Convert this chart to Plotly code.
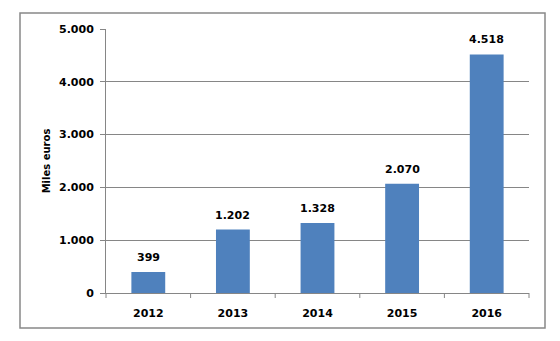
import plotly.graph_objects as go

years = ["2012", "2013", "2014", "2015", "2016"]
values = [399, 1202, 1328, 2070, 4518]
y_ticks = [0, 1000, 2000, 3000, 4000, 5000]

L, R, T, B = 106, 529, 29, 293
W, H = 560, 341
pw, ph = R - L, B - T

def px_to_paper_x(px):
    return (px - L) / pw

def px_to_paper_y(py):
    return (B - py) / ph

font_bold = dict(family="DejaVu Sans", size=11, color="#000000", weight="bold")

fig = go.Figure(
    go.Bar(
        x=years,
        y=values,
        marker=dict(color="#4F81BD", line=dict(width=0)),
        width=0.4,
        cliponaxis=False,
    )
)

# value labels above each bar (category index positions)
for i, v in enumerate(values):
    fig.add_annotation(
        x=i, y=v, xref="x", yref="y",
        text=f"{v:,}".replace(",", "."),
        showarrow=False, yanchor="bottom", yshift=6,
        font=font_bold,
    )

fig.update_layout(
    width=W,
    height=H,
    margin=dict(l=L, r=W - R, t=T, b=H - B),
    paper_bgcolor="white",
    plot_bgcolor="white",
    separators=",.",
    showlegend=False,
    xaxis=dict(
        type="category",
        range=[-0.5, len(years) - 0.5],
        showgrid=False,
        showline=True,
        linecolor="#868686",
        linewidth=1,
        ticks="",
        tickfont=font_bold,
        ticklabelstandoff=10,
    ),
    yaxis=dict(
        range=[0, 5000],
        tickvals=y_ticks,
        tickformat=",d",
        showgrid=True,
        gridcolor="#868686",
        gridwidth=1,
        showline=True,
        linecolor="#868686",
        linewidth=1,
        ticks="outside",
        ticklen=5,
        tickcolor="#868686",
        tickfont=font_bold,
        ticklabelstandoff=4,
        zeroline=False,
        title=dict(text="Miles euros",
                   font=dict(family="DejaVu Sans", size=10, color="#000000", weight="bold"),
                   standoff=6),
    ),
)

# category boundary tick marks below the x axis
shapes = []
for i in range(len(years) + 1):
    xp = i / len(years)
    shapes.append(dict(type="line", xref="paper", yref="paper",
                       x0=xp, x1=xp, y0=0, y1=-5 / ph,
                       line=dict(color="#868686", width=1)))

# chart frame
shapes.append(dict(type="rect", xref="paper", yref="paper",
                   x0=px_to_paper_x(20), x1=px_to_paper_x(545),
                   y0=px_to_paper_y(328), y1=px_to_paper_y(13),
                   line=dict(color="#888888", width=1.5),
                   fillcolor="rgba(0,0,0,0)", layer="below"))
fig.update_layout(shapes=shapes)

fig.write_html("out.html")
